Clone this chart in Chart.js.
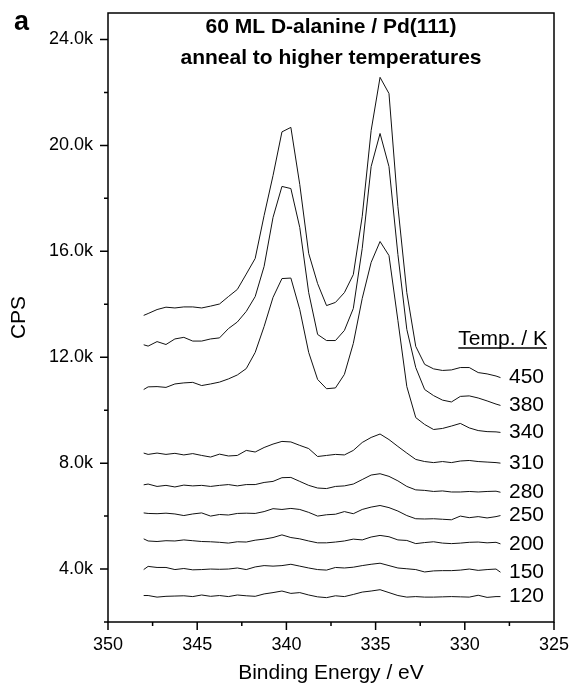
<!DOCTYPE html>
<html>
<head>
<meta charset="utf-8">
<script src="https://cdn.jsdelivr.net/npm/chart.js@4.4.1/dist/chart.umd.min.js"></script>
<style>
  html, body { margin: 0; padding: 0; background: #fff; }
  #xpsChart { display: block; }
</style>
</head>
<body>
<canvas id="xpsChart" width="571" height="686"></canvas>
<script>
// binding energy grid (eV), shared by all spectra
let energy = [348, 347.75, 347.25, 346.75, 346.25, 345.75, 345.25, 344.75, 344.25, 343.75,
  343.25, 342.75, 342.25, 341.75, 341.25, 340.75, 340.25, 339.75, 339.25, 338.75,
  338.25, 337.75, 337.25, 336.75, 336.25, 335.75, 335.25, 334.75, 334.25, 333.75,
  333.25, 332.75, 332.25, 331.75, 331.25, 330.75, 330.25, 329.75, 329.25, 328.75,
  328.25, 328];

let temps = ["450", "380", "340", "310", "280", "250", "200", "150", "120"];

let cps450 = [13580, 13650, 13800, 13890, 13860, 13900, 13900, 13860, 13930, 14010,
  14290, 14560, 15140, 15730, 17350, 18860, 20510, 20680, 18520, 15920,
  14780, 13950, 14070, 14440, 15120, 17320, 20560, 22570, 21960, 17690,
  14440, 12410, 11730, 11560, 11500, 11520, 11610, 11610, 11420, 11370,
  11290, 11230];
let cps380 = [12470, 12420, 12590, 12480, 12690, 12750, 12610, 12610, 12690, 12730,
  13080, 13330, 13730, 14290, 15430, 17280, 18450, 18370, 16900, 14440,
  12860, 12630, 12630, 13010, 13840, 16110, 19200, 20450, 19200, 15880,
  13050, 11610, 10780, 10550, 10380, 10310, 10520, 10540, 10460, 10350,
  10230, 10180];
let cps340 = [10780, 10880, 10890, 10860, 10990, 11030, 11050, 10930, 10990, 11060,
  11180, 11330, 11570, 12180, 13160, 14260, 14970, 14990, 13800, 12180,
  11160, 10810, 10840, 11350, 12520, 14220, 15580, 16370, 15840, 13390,
  10890, 9720, 9460, 9270, 9310, 9400, 9500, 9330, 9230, 9190,
  9180, 9160];
let cps310 = [8380, 8330, 8380, 8330, 8370, 8310, 8360, 8290, 8230, 8340,
  8270, 8290, 8480, 8420, 8590, 8720, 8820, 8800, 8670, 8550,
  8250, 8290, 8330, 8310, 8480, 8780, 8970, 9100, 8890, 8630,
  8380, 8140, 8060, 8020, 8060, 8020, 8080, 8100, 8060, 8040,
  8020, 8000];
let cps280 = [7180, 7210, 7120, 7160, 7100, 7170, 7140, 7160, 7120, 7160,
  7190, 7140, 7190, 7190, 7270, 7310, 7450, 7460, 7310, 7160,
  7060, 7040, 7120, 7140, 7210, 7380, 7550, 7600, 7500, 7330,
  7120, 6990, 6970, 6930, 6950, 6910, 6910, 6930, 6910, 6930,
  6940, 6900];
let cps250 = [6120, 6100, 6090, 6110, 6080, 6020, 6080, 6120, 6000, 6060,
  6040, 6100, 6110, 6100, 6170, 6280, 6250, 6290, 6250, 6140,
  6000, 6050, 6070, 6170, 6090, 6250, 6340, 6400, 6320, 6190,
  6020, 5900, 5890, 5900, 5880, 5860, 6000, 5940, 5980, 5930,
  5980, 6020];
let cps200 = [5140, 5060, 5040, 5070, 5060, 5100, 5070, 5040, 5030, 5010,
  4980, 5030, 5020, 5090, 5130, 5190, 5290, 5190, 5140, 5060,
  4990, 4990, 5020, 5060, 5130, 5100, 5210, 5270, 5220, 5100,
  5080, 4960, 5000, 5030, 4980, 4960, 4980, 5010, 5020, 4990,
  5010, 4950];
let cps150 = [3980, 4100, 4060, 4060, 3980, 4020, 3970, 3980, 4000, 3990,
  4000, 4040, 3980, 4080, 4130, 4110, 4130, 4180, 4110, 4040,
  3980, 3960, 4060, 4040, 4070, 4130, 4180, 4220, 4130, 4040,
  4010, 3980, 3890, 3930, 3940, 3940, 3960, 4000, 3950, 3980,
  4000, 3880];
let cps120 = [3000, 3000, 2940, 2970, 2980, 2990, 2960, 3020, 2970, 3000,
  2960, 3020, 2990, 2970, 3060, 3110, 3170, 3080, 3110, 3020,
  2950, 2920, 2990, 2960, 3040, 3130, 3170, 3220, 3110, 3000,
  2940, 2960, 2940, 2940, 2950, 2960, 2950, 2940, 3010, 2930,
  2960, 2960];

let spectra = [cps450, cps380, cps340, cps310, cps280, cps250, cps200, cps150, cps120];

// axis ticks: every tick mark, and the labelled ones
let xTickAll = [325, 327.5, 330, 332.5, 335, 337.5, 340, 342.5, 345, 347.5, 350];
let xTickValues = [350, 345, 340, 335, 330, 325];
let xTickLabels = ["350", "345", "340", "335", "330", "325"];
let yTickAll = [2000, 4000, 6000, 8000, 10000, 12000, 14000, 16000, 18000, 20000, 22000, 24000];
let yTickValues = [4000, 8000, 12000, 16000, 20000, 24000];
let yTickLabels = ["4.0k", "8.0k", "12.0k", "16.0k", "20.0k", "24.0k"];

let titleLines = ["60 ML D-alanine / Pd(111)", "anneal to higher temperatures"];
let legendTitle = "Temp. / K";
let panelLetter = "a";

const FONT = "'Liberation Sans', Arial, Helvetica, sans-serif";

let datasets = spectra.map((values, i) => ({
  label: temps[i] + " K",
  data: energy.map((e, j) => ({ x: e, y: values[j] })),
  borderColor: "#111",
  borderWidth: 1,
  pointRadius: 0,
  tension: 0,
  fill: false,
}));

// frame, tick marks, title and temperature labels
const decorations = {
  id: "decorations",
  afterDraw(chart) {
    const { ctx, chartArea: a, scales } = chart;
    const xs = scales.x;
    const ys = scales.y;
    ctx.save();
    ctx.strokeStyle = "#000";
    ctx.lineWidth = 1.5;
    ctx.strokeRect(a.left, a.top, a.right - a.left, a.bottom - a.top);

    ctx.beginPath();
    ys.ticks.forEach((t) => {
      let py = ys.getPixelForValue(t.value);
      let len = yTickValues.includes(t.value) ? 8 : 4;
      ctx.moveTo(a.left - len, py);
      ctx.lineTo(a.left, py);
    });
    xs.ticks.forEach((t) => {
      let px = xs.getPixelForValue(t.value);
      let len = xTickValues.includes(t.value) ? 8 : 4;
      ctx.moveTo(px, a.bottom);
      ctx.lineTo(px, a.bottom + len);
    });
    ctx.stroke();

    ctx.fillStyle = "#000";
    ctx.textAlign = "center";
    ctx.textBaseline = "alphabetic";
    ctx.font = "bold 21px " + FONT;
    let cx = (a.left + a.right) / 2;
    ctx.fillText(titleLines[0], cx, 33);
    ctx.fillText(titleLines[1], cx, 64);

    ctx.textAlign = "left";
    ctx.font = "bold 27px " + FONT;
    ctx.fillText(panelLetter, 14, 29.5);

    // legend header, underlined
    ctx.font = "21px " + FONT;
    ctx.textAlign = "right";
    let hx = a.right - 7;
    ctx.fillText(legendTitle, hx, 345);
    let w = ctx.measureText(legendTitle).width;
    ctx.beginPath();
    ctx.lineWidth = 1.5;
    ctx.moveTo(hx - w, 348);
    ctx.lineTo(hx, 348);
    ctx.stroke();

    // temperature next to the end of each trace
    ctx.textAlign = "left";
    ctx.textBaseline = "middle";
    temps.forEach((t, i) => {
      let pts = chart.getDatasetMeta(i).data;
      let last = pts[pts.length - 1];
      ctx.fillText(t, a.right - 45, last.y);
    });
    ctx.restore();
  },
};

let ctx = document.getElementById("xpsChart").getContext("2d");
let xpsChart = new Chart(ctx, {
  type: "line",
  data: { datasets: datasets },
  options: {
    responsive: false,
    animation: false,
    layout: { padding: { left: 0, top: 13, right: 17, bottom: 0 } },
    plugins: {
      legend: { display: false },
      tooltip: { enabled: false },
    },
    scales: {
      x: {
        type: "linear",
        reverse: true,
        min: 325,
        max: 350,
        border: { display: false },
        grid: { display: false, drawTicks: false },
        afterBuildTicks: (scale) => {
          scale.ticks = xTickAll.map((v) => ({ value: v }));
        },
        ticks: {
          maxRotation: 0,
          autoSkip: false,
          padding: 12,
          color: "#000",
          font: { family: FONT, size: 18 },
          callback: (v) => {
            let k = xTickValues.indexOf(v);
            return k >= 0 ? xTickLabels[k] : "";
          },
        },
        title: {
          display: true,
          text: "Binding Energy / eV",
          color: "#000",
          font: { family: FONT, size: 21, lineHeight: 1.2 },
          padding: { top: 0, bottom: 0 },
        },
        afterFit: (scale) => {
          scale.height = 64;
          scale.paddingLeft = 0;
          scale.paddingRight = 0;
        },
      },
      y: {
        min: 2000,
        max: 25000,
        border: { display: false },
        grid: { display: false, drawTicks: false },
        afterBuildTicks: (scale) => {
          scale.ticks = yTickAll.map((v) => ({ value: v }));
        },
        ticks: {
          autoSkip: false,
          padding: 15,
          color: "#000",
          font: { family: FONT, size: 18 },
          callback: (v) => {
            let k = yTickValues.indexOf(v);
            return k >= 0 ? yTickLabels[k] : "";
          },
        },
        title: {
          display: true,
          text: "CPS",
          color: "#000",
          font: { family: FONT, size: 21, lineHeight: 1.2 },
          padding: { top: 7, bottom: 0 },
        },
        afterFit: (scale) => {
          scale.width = 108;
          scale.paddingTop = 0;
          scale.paddingBottom = 0;
        },
      },
    },
  },
  plugins: [decorations],
});
</script>
</body>
</html>
